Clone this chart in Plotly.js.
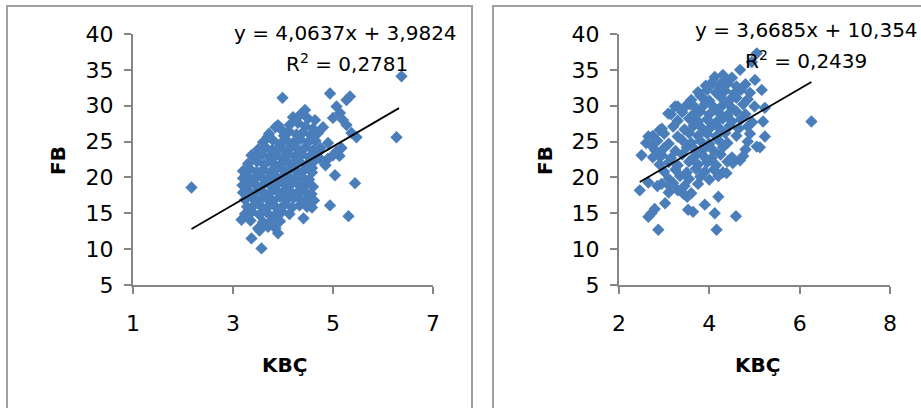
<!DOCTYPE html>
<html>
<head>
<meta charset="utf-8">
<script src="https://cdn.plot.ly/plotly-3.0.1.min.js"></script>
<style>
  html, body { margin: 0; padding: 0; background: #ffffff; }
  #chart { width: 921px; height: 408px; }
</style>
</head>
<body>
<div id="chart"></div>
<script>
// Left panel: KBÇ vs FB (group 1)
const kbcA = [
  2.17, 6.37, 6.27, 3.99, 4.94, 5.34, 5.27, 5.07, 5.14, 5.20, 5.27, 5.00, 5.37, 5.47, 5.44, 5.31, 4.94, 5.04, 4.90, 5.07,
  5.00, 4.90, 4.85, 4.80, 4.64, 4.44, 4.41, 4.58, 4.62, 3.57, 3.37, 3.50, 3.53, 3.90, 3.17, 3.37, 3.70, 3.90, 3.99, 5.17,
  5.13, 4.74, 4.58,
  4.20, 4.35, 4.50,
  3.85, 4.13, 4.30, 4.45, 4.60,
  3.72, 4.02, 4.12, 4.27, 4.40, 4.55, 4.70,
  3.60, 3.80, 3.95, 4.08, 4.20, 4.35, 4.50, 4.65,
  3.50, 3.65, 3.78, 3.90, 4.03, 4.18, 4.30, 4.45, 4.60, 4.75,
  3.45, 3.58, 3.72, 3.86, 3.98, 4.10, 4.24, 4.38, 4.52, 4.68,
  3.30, 3.48, 3.63, 3.78, 3.93, 4.07, 4.20, 4.33, 4.48, 4.60,
  3.20, 3.34, 3.47, 3.60, 3.74, 3.88, 4.02, 4.15, 4.28, 4.43, 4.58,
  3.20, 3.30, 3.44, 3.57, 3.70, 3.84, 3.97, 4.10, 4.23, 4.38, 4.52,
  3.19, 3.34, 3.48, 3.62, 3.77, 3.92, 4.05, 4.18, 4.33, 4.47, 4.60,
  3.20, 3.30, 3.43, 3.58, 3.72, 3.85, 3.99, 4.13, 4.28, 4.43, 4.57,
  3.24, 3.38, 3.53, 3.67, 3.80, 3.94, 4.08, 4.22, 4.37, 4.52,
  3.28, 3.43, 3.58, 3.73, 3.88, 4.03, 4.18, 4.33, 4.48,
  3.24, 3.38, 3.53, 3.68, 3.83, 3.98, 4.13,
  3.35, 3.60, 3.78, 3.94,
  3.70, 3.85
];
const fbA = [
  18.6, 34.1, 25.6, 31.1, 31.7, 31.3, 30.8, 29.9, 29.0, 28.0, 27.3, 28.3, 26.2, 25.6, 19.2, 14.6, 16.1, 20.3, 24.8, 23.6,
  23.1, 22.6, 21.7, 27.0, 28.0, 29.4, 14.3, 15.8, 16.8, 10.1, 11.5, 12.9, 12.6, 12.2, 14.1, 23.1, 25.7, 27.3, 26.5, 24.1,
  23.0, 22.6, 21.3,
  28.4, 28.8, 28.2,
  27.0, 27.3, 27.6, 27.1, 26.8,
  26.1, 25.8, 26.4, 26.0, 26.3, 25.9, 26.2,
  24.9, 25.2, 24.7, 25.1, 24.8, 25.3, 24.9, 25.1,
  23.9, 24.2, 23.8, 24.1, 23.7, 24.3, 23.9, 24.2, 23.8, 24.1,
  22.8, 23.2, 22.9, 23.1, 22.7, 23.3, 22.9, 23.2, 22.8, 23.0,
  21.9, 22.2, 21.8, 22.1, 21.7, 22.3, 21.9, 22.2, 21.8, 22.1,
  20.9, 21.2, 20.8, 21.1, 20.7, 21.3, 20.9, 21.2, 20.8, 21.1, 20.7,
  19.9, 20.2, 19.8, 20.1, 19.7, 20.3, 19.9, 20.2, 19.8, 20.1, 19.7,
  18.9, 19.2, 18.8, 19.1, 18.7, 19.3, 18.9, 19.2, 18.8, 19.1, 18.7,
  17.9, 18.2, 17.8, 18.1, 17.7, 18.3, 17.9, 18.2, 17.8, 18.1, 17.7,
  16.9, 17.2, 16.8, 17.1, 16.7, 17.3, 16.9, 17.2, 16.8, 17.1,
  15.9, 16.2, 15.8, 16.1, 15.7, 16.2, 15.8, 16.1, 15.9,
  14.9, 15.2, 14.8, 15.1, 14.7, 15.2, 14.9,
  14.0, 13.8, 14.1, 13.9,
  13.1, 12.9
];

// Right panel: KBÇ vs FB (group 2)
const kbcB = [
  6.26, 5.05, 4.94, 4.68, 5.01, 5.16, 5.23, 5.19, 5.23, 5.05, 5.12, 4.68, 4.52, 4.38, 4.20, 3.90, 4.12, 4.16, 4.59, 3.64,
  3.53, 3.51, 3.43, 2.87, 2.65, 2.72, 2.79, 3.02, 2.46, 2.65, 2.50, 2.65, 2.72, 2.90, 3.09, 3.24, 3.57, 3.80, 4.09, 4.35,
  2.94, 3.12, 2.90,
  4.12, 4.30, 4.50,
  3.92, 4.05, 4.22, 4.40, 4.60, 4.80,
  3.75, 3.95, 4.15, 4.35, 4.55, 4.70, 4.90,
  3.60, 3.85, 4.00, 4.25, 4.45, 4.60, 4.85,
  3.30, 3.50, 3.70, 3.90, 4.10, 4.30, 4.50, 4.75, 5.00,
  3.15, 3.40, 3.63, 3.80, 4.00, 4.20, 4.40, 4.60, 4.80,
  3.30, 3.55, 3.75, 3.95, 4.15, 4.30, 4.50, 4.70, 4.95,
  2.95, 3.20, 3.45, 3.65, 3.85, 4.05, 4.25, 4.45, 4.65, 4.85,
  2.75, 3.00, 3.30, 3.55, 3.75, 3.95, 4.15, 4.35, 4.60, 4.90,
  2.60, 2.85, 3.10, 3.40, 3.60, 3.80, 4.00, 4.20, 4.40, 4.85,
  2.80, 3.00, 3.25, 3.50, 3.70, 3.90, 4.10, 4.30, 4.80,
  2.75, 2.95, 3.15, 3.40, 3.65, 3.85, 4.05, 4.25, 4.50, 4.75,
  2.90, 3.10, 3.30, 3.55, 3.75, 3.95, 4.15, 4.40,
  3.00, 3.25, 3.50, 3.70, 3.90, 4.10, 4.30,
  3.10, 3.35, 3.55, 3.80, 4.00, 4.20,
  2.85, 3.20, 3.45, 3.75,
  3.10, 3.30, 3.60
];
const fbB = [
  27.8, 37.3, 36.1, 35.0, 33.6, 32.2, 29.7, 27.8, 25.7, 24.3, 24.2, 22.4, 22.0, 20.6, 17.3, 16.2, 15.0, 12.7, 14.6, 15.2,
  15.5, 17.3, 17.7, 12.7, 14.5, 15.0, 15.6, 16.4, 18.2, 19.3, 23.1, 25.7, 24.4, 26.6, 28.9, 29.9, 30.2, 31.4, 33.1, 33.6,
  19.1, 18.8, 22.9,
  34.0, 34.3, 33.9,
  32.8, 33.2, 32.9, 33.1, 32.7, 33.0,
  31.9, 32.2, 31.8, 32.1, 31.7, 32.2, 31.8,
  30.8, 31.1, 30.7, 31.2, 30.8, 31.1, 30.9,
  29.9, 30.1, 29.7, 30.2, 29.8, 30.1, 29.7, 30.2, 29.9,
  28.8, 29.1, 28.7, 29.2, 28.8, 29.1, 28.7, 29.2, 28.8,
  27.9, 28.2, 27.8, 28.1, 27.7, 28.2, 27.8, 28.1, 27.7,
  26.8, 27.1, 26.7, 27.2, 26.8, 27.1, 26.7, 27.2, 26.8, 27.1,
  25.8, 26.1, 25.7, 26.2, 25.8, 26.1, 25.7, 26.2, 25.8, 26.1,
  24.8, 25.1, 24.7, 25.2, 24.8, 25.1, 24.7, 25.2, 24.8, 25.0,
  23.8, 24.1, 23.7, 24.2, 23.8, 24.1, 23.7, 24.2, 23.9,
  22.8, 23.1, 22.7, 23.2, 22.8, 23.1, 22.7, 23.2, 22.8, 23.0,
  21.8, 22.1, 21.7, 22.2, 21.8, 22.1, 21.7, 22.2,
  20.8, 21.1, 20.7, 21.2, 20.8, 21.1, 20.7,
  19.8, 20.2, 19.8, 20.1, 19.7, 20.2,
  18.8, 19.2, 18.8, 19.1,
  17.9, 18.2, 17.8
];

// Linear trend lines (slope, intercept, x extent)
const slopeA = 4.0637, interceptA = 3.9824, r2A = "0,2781", trendXA = [2.17, 6.32];
const slopeB = 3.6685, interceptB = 10.354, r2B = "0,2439", trendXB = [2.46, 6.26];

// Axis ticks
const xTicksA = [1, 3, 5, 7];
const xTicksB = [2, 4, 6, 8];
const yTicks = [5, 10, 15, 20, 25, 30, 35, 40];

const W = 921, H = 408;
const px = v => v / W;
const py = v => 1 - v / H;

const FONT = "DejaVu Sans, Verdana, sans-serif";
const markerColor = "#4a7ebb";
const axisColor = "#868686";

const fmt = v => v.toFixed(4).replace(/0+$/, "").replace(".", ",");
const eqText = (m, b) => "y = " + fmt(m) + "x + " + fmt(b);

function trend(xs, m, b) { return xs.map(x => m * x + b); }

const traces = [
  { x: kbcA, y: fbA, type: "scatter", mode: "markers", xaxis: "x", yaxis: "y",
    marker: { symbol: "diamond", size: 9.5, color: markerColor, line: { width: 0 } }, hoverinfo: "x+y" },
  { x: trendXA, y: trend(trendXA, slopeA, interceptA), type: "scatter", mode: "lines", xaxis: "x", yaxis: "y",
    line: { color: "#000000", width: 1.75 } },
  { x: kbcB, y: fbB, type: "scatter", mode: "markers", xaxis: "x2", yaxis: "y2",
    marker: { symbol: "diamond", size: 9.5, color: markerColor, line: { width: 0 } }, hoverinfo: "x+y" },
  { x: trendXB, y: trend(trendXB, slopeB, interceptB), type: "scatter", mode: "lines", xaxis: "x2", yaxis: "y2",
    line: { color: "#000000", width: 1.75 } }
];

function xAxis(domain, range, ticks, anchor) {
  return {
    domain: domain, range: range, anchor: anchor,
    tickmode: "array", tickvals: ticks, ticktext: ticks.map(String),
    showgrid: false, zeroline: false, showline: true, linecolor: axisColor, linewidth: 2,
    ticks: "outside", ticklen: 7, tickwidth: 2, tickcolor: axisColor,
    ticklabelstandoff: 11,
    tickfont: { family: FONT, size: 22, color: "#000000" }
  };
}
function yAxis(anchor) {
  return {
    domain: [py(285), py(34)], range: [5, 40], anchor: anchor,
    tickmode: "array", tickvals: yTicks, ticktext: yTicks.map(String),
    showgrid: false, zeroline: false, showline: true, linecolor: axisColor, linewidth: 2,
    ticks: "outside", ticklen: 7, tickwidth: 2, tickcolor: axisColor,
    ticklabelstandoff: 6,
    tickfont: { family: FONT, size: 22, color: "#000000" }
  };
}

function label(text, x, y, size, bold, angle) {
  return {
    text: bold ? "<b>" + text + "</b>" : text,
    xref: "paper", yref: "paper", x: px(x), y: py(y),
    xanchor: "center", yanchor: "middle", showarrow: false,
    textangle: angle || 0,
    font: { family: FONT, size: size, color: "#000000" }
  };
}

const layout = {
  width: W, height: H,
  margin: { l: 0, r: 0, t: 0, b: 0 },
  paper_bgcolor: "#ffffff", plot_bgcolor: "rgba(0,0,0,0)",
  showlegend: false,
  xaxis: xAxis([px(133), px(433)], [1, 7], xTicksA, "y"),
  yaxis: yAxis("x"),
  xaxis2: xAxis([px(619), px(890)], [2, 8], xTicksB, "y2"),
  yaxis2: yAxis("x2"),
  shapes: [
    { type: "rect", xref: "paper", yref: "paper", x0: px(7), x1: px(472), y0: -0.05, y1: py(6),
      line: { color: "#a0a0a0", width: 2 }, layer: "below" },
    { type: "rect", xref: "paper", yref: "paper", x0: px(493), x1: 1.05, y0: -0.05, y1: py(6),
      line: { color: "#a0a0a0", width: 2 }, layer: "below" }
  ],
  annotations: [
    label(eqText(slopeA, interceptA), 345, 33, 20),
    label("R<sup>2</sup> = " + r2A, 347, 63, 20),
    label(eqText(slopeB, interceptB), 806, 30, 20),
    label("R<sup>2</sup> = " + r2B, 806, 60, 20),
    label("KBÇ", 284, 365, 20, true),
    label("KBÇ", 757, 365, 20, true),
    label("FB", 58, 161, 20, true, -90),
    label("FB", 545, 161, 20, true, -90)
  ]
};

Plotly.newPlot("chart", traces, layout, { displayModeBar: false, staticPlot: true });
</script>
</body>
</html>
